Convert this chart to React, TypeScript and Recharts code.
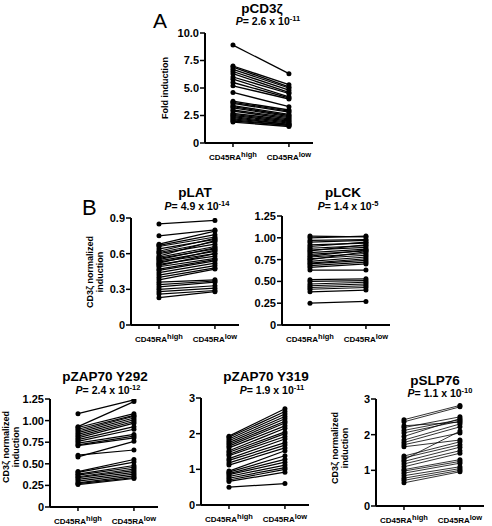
import React from 'react';
import { LineChart, Line, XAxis, YAxis } from 'recharts';

const FONT = 'Arial, "Liberation Sans", Helvetica, sans-serif';

const categories = ['high', 'low'];
const catX = [1, 2];

// Panel A: pCD3zeta fold induction
const cd3High = [8.9, 7.0, 6.9, 6.7, 6.5, 6.3, 6.0, 5.8, 5.5, 5.2, 4.6, 3.8, 3.7, 3.6, 3.4, 3.3, 3.2, 3.0, 2.9, 2.7, 2.6, 2.5, 2.4, 2.3, 2.2, 2.1, 2.0, 1.9];
const cd3Low = [6.3, 5.3, 5.1, 5.0, 4.8, 4.6, 4.5, 4.2, 4.1, 4.0, 3.3, 3.0, 2.9, 2.8, 2.6, 2.5, 2.4, 2.3, 2.2, 2.1, 2.0, 1.9, 1.8, 1.7, 1.7, 1.6, 1.6, 1.5];
const cd3Ticks = [0, 2.5, 5, 7.5, 10];
const cd3TickLabels = ['0', '2.5', '5.0', '7.5', '10.0'];

// pLAT
const latHigh = [0.85, 0.75, 0.68, 0.67, 0.66, 0.64, 0.62, 0.61, 0.60, 0.58, 0.57, 0.56, 0.55, 0.54, 0.53, 0.52, 0.51, 0.50, 0.49, 0.47, 0.46, 0.44, 0.42, 0.40, 0.38, 0.36, 0.34, 0.32, 0.30, 0.28, 0.26, 0.23];
const latLow = [0.88, 0.80, 0.79, 0.76, 0.74, 0.72, 0.73, 0.70, 0.68, 0.71, 0.66, 0.64, 0.65, 0.62, 0.60, 0.63, 0.58, 0.60, 0.56, 0.55, 0.54, 0.52, 0.50, 0.48, 0.47, 0.38, 0.37, 0.36, 0.33, 0.31, 0.29, 0.28];
const latTicks = [0, 0.3, 0.6, 0.9];
const latTickLabels = ['0', '0.3', '0.6', '0.9'];

// pLCK
const lckHigh = [1.02, 1.00, 0.97, 0.95, 0.92, 0.90, 0.88, 0.86, 0.85, 0.83, 0.81, 0.79, 0.78, 0.76, 0.75, 0.73, 0.71, 0.70, 0.68, 0.66, 0.63, 0.52, 0.50, 0.47, 0.45, 0.43, 0.41, 0.38, 0.25];
const lckLow = [1.01, 1.02, 0.98, 0.97, 0.94, 0.95, 0.91, 0.89, 0.92, 0.87, 0.85, 0.86, 0.82, 0.80, 0.84, 0.78, 0.76, 0.74, 0.72, 0.70, 0.63, 0.53, 0.51, 0.49, 0.47, 0.45, 0.43, 0.40, 0.27];
const quarterTicks = [0, 0.25, 0.5, 0.75, 1.0, 1.25];
const quarterTickLabels = ['0', '0.25', '0.50', '0.75', '1.00', '1.25'];

// pZAP70 Y292
const y292High = [1.08, 0.93, 0.92, 0.90, 0.88, 0.86, 0.84, 0.82, 0.80, 0.78, 0.76, 0.74, 0.72, 0.71, 0.60, 0.58, 0.41, 0.40, 0.38, 0.37, 0.35, 0.34, 0.32, 0.30, 0.28, 0.27, 0.26];
const y292Low = [1.24, 1.22, 1.08, 1.06, 1.05, 1.03, 1.01, 0.99, 0.97, 0.93, 0.90, 0.84, 0.82, 0.80, 0.66, 0.76, 0.55, 0.52, 0.48, 0.46, 0.44, 0.42, 0.40, 0.38, 0.36, 0.34, 0.33];

// pZAP70 Y319
const y319High = [1.93, 1.90, 1.85, 1.80, 1.75, 1.70, 1.65, 1.60, 1.52, 1.48, 1.42, 1.38, 1.30, 1.25, 1.18, 1.12, 0.95, 0.92, 0.88, 0.85, 0.80, 0.75, 0.70, 0.66, 0.50];
const y319Low = [2.70, 2.62, 2.55, 2.48, 2.42, 2.35, 2.30, 2.22, 2.15, 2.05, 2.00, 1.92, 1.85, 1.75, 1.68, 1.60, 1.52, 1.38, 1.28, 1.20, 1.12, 1.05, 1.00, 0.92, 0.60];
const intTicks = [0, 1, 2, 3];
const intTickLabels = ['0', '1', '2', '3'];

// pSLP76
const slpHigh = [2.42, 2.36, 2.25, 2.20, 2.12, 2.05, 1.95, 1.85, 1.78, 1.72, 1.66, 1.40, 1.35, 1.30, 1.25, 1.18, 1.10, 1.02, 0.98, 0.92, 0.85, 0.78, 0.72, 0.65];
const slpLow = [2.82, 2.78, 2.35, 2.50, 2.42, 2.38, 2.45, 2.30, 2.22, 2.05, 1.85, 1.80, 1.72, 2.10, 1.65, 1.55, 1.48, 1.30, 1.25, 1.20, 1.10, 1.05, 1.00, 0.96];

const YW = 40;
const MT = 6;
const XH = 24;
const PW = 108;
const MR = 6;

function XTick(props: any) {
  const { x, y, payload } = props;
  const idx = catX.indexOf(payload.value);
  return (
    <text x={x} y={y + 11} textAnchor="middle" fontFamily={FONT} fontWeight="bold" fontSize={8} fill="#000">
      CD45RA
      <tspan dy={-3.5} fontSize={7.5}>{categories[idx]}</tspan>
    </text>
  );
}

type PanelProps = {
  high: number[];
  low: number[];
  yMax: number;
  ticks: number[];
  tickLabels: string[];
  axisX: number;
  yTop: number;
  yZero: number;
  lineWidth: number;
};

function Panel({ high, low, yMax, ticks, tickLabels, axisX, yTop, yZero, lineWidth }: PanelProps) {
  const plotH = yZero - yTop;
  const rows = catX.map((xv, ci) => {
    const r: any = { x: xv };
    (ci === 0 ? high : low).forEach((v, i) => {
      r['s' + i] = v;
    });
    return r;
  });
  return (
    <div style={{ position: 'absolute', left: axisX - YW, top: yTop - MT }}>
      <LineChart width={YW + PW + MR} height={MT + plotH + XH} data={rows} margin={{ top: MT, right: MR, left: 0, bottom: 0 }}>
        <XAxis
          type="number"
          dataKey="x"
          domain={[0.5, 2.43]}
          ticks={catX}
          allowDataOverflow
          interval={0}
          height={XH}
          axisLine={{ stroke: '#000', strokeWidth: 2 }}
          tickLine={{ stroke: '#000', strokeWidth: 1.5 }}
          tickSize={4}
          tick={<XTick />}
        />
        <YAxis
          type="number"
          domain={[0, yMax]}
          ticks={ticks}
          interval={0}
          width={YW}
          allowDataOverflow
          axisLine={{ stroke: '#000', strokeWidth: 2 }}
          tickLine={{ stroke: '#000', strokeWidth: 1.5 }}
          tickSize={5}
          tickMargin={1}
          tickFormatter={(v: number) => tickLabels[ticks.indexOf(v)] ?? String(v)}
          tick={{ fontSize: 11, fontWeight: 'bold', fill: '#000', fontFamily: FONT }}
        />
        {high.map((_, i) => (
          <Line
            key={i}
            type="linear"
            dataKey={'s' + i}
            stroke="#000"
            strokeWidth={lineWidth}
            dot={{ r: 2.5, fill: '#000', stroke: '#000', strokeWidth: 0 }}
            isAnimationActive={false}
          />
        ))}
      </LineChart>
    </div>
  );
}

function PText({ x, y, mant, exp }: { x: number; y: number; mant: string; exp: string }) {
  return (
    <text x={x} y={y} textAnchor="middle" fontFamily={FONT} fontWeight="bold" fontSize={10.5} fill="#000">
      <tspan fontStyle="italic">P</tspan>= {mant} x 10
      <tspan dy={-4} fontSize={7.5}>{exp}</tspan>
    </text>
  );
}

function Title({ x, y, text }: { x: number; y: number; text: string }) {
  return (
    <text x={x} y={y} textAnchor="middle" fontFamily={FONT} fontWeight="bold" fontSize={13.5} fill="#000">
      {text}
    </text>
  );
}

function YLabel({ cx, cy, lines }: { cx: number; cy: number; lines: string[] }) {
  const lh = 9.5;
  const start = -((lines.length - 1) * lh) / 2;
  return (
    <g transform={`translate(${cx},${cy}) rotate(-90)`}>
      {lines.map((l, i) => (
        <text key={i} x={0} y={start + i * lh + 3} textAnchor="middle" fontFamily={FONT} fontWeight="bold" fontSize={9} fill="#000">
          {l}
        </text>
      ))}
    </g>
  );
}

export default function App() {
  return (
    <div style={{ position: 'absolute', left: 0, top: 0, width: 492, height: 526, background: '#fff', overflow: 'hidden' }}>
      <Panel high={cd3High} low={cd3Low} yMax={10} ticks={cd3Ticks} tickLabels={cd3TickLabels} axisX={205} yTop={33} yZero={143} lineWidth={1.3} />
      <Panel high={latHigh} low={latLow} yMax={0.9} ticks={latTicks} tickLabels={latTickLabels} axisX={131} yTop={218} yZero={325} lineWidth={1.2} />
      <Panel high={lckHigh} low={lckLow} yMax={1.25} ticks={quarterTicks} tickLabels={quarterTickLabels} axisX={282} yTop={216} yZero={325} lineWidth={1.2} />
      <Panel high={y292High} low={y292Low} yMax={1.25} ticks={quarterTicks} tickLabels={quarterTickLabels} axisX={50} yTop={399} yZero={507} lineWidth={1.2} />
      <Panel high={y319High} low={y319Low} yMax={3} ticks={intTicks} tickLabels={intTickLabels} axisX={201} yTop={398} yZero={505} lineWidth={1.2} />
      <Panel high={slpHigh} low={slpLow} yMax={3} ticks={intTicks} tickLabels={intTickLabels} axisX={376} yTop={399} yZero={506} lineWidth={0.8} />
      <svg width={492} height={526} style={{ position: 'absolute', left: 0, top: 0, pointerEvents: 'none' }}>
        <text x={153} y={28} fontFamily={FONT} fontSize={21} fill="#000">A</text>
        <text x={82} y={215} fontFamily={FONT} fontSize={22} fill="#000">B</text>

        <Title x={262} y={13} text="pCD3ζ" />
        <PText x={268} y={25} mant="2.6" exp="-11" />

        <Title x={195} y={197} text="pLAT" />
        <PText x={197} y={210} mant="4.9" exp="-14" />

        <Title x={343} y={197} text="pLCK" />
        <PText x={348} y={210} mant="1.4" exp="-5" />

        <Title x={105} y={381} text="pZAP70 Y292" />
        <PText x={108} y={394} mant="2.4" exp="-12" />

        <Title x={266} y={381} text="pZAP70 Y319" />
        <PText x={272} y={394} mant="1.9" exp="-11" />

        <Title x={435} y={385} text="pSLP76" />
        <PText x={440} y={397} mant="1.1" exp="-10" />

        <YLabel cx={165} cy={88} lines={['Fold induction']} />
        <YLabel cx={95} cy={272} lines={['CD3ζ normalized', 'induction']} />
        <YLabel cx={11} cy={447} lines={['CD3ζ normalized', 'induction']} />
        <YLabel cx={340} cy={448} lines={['CD3ζ normalized', 'induction']} />
      </svg>
    </div>
  );
}
